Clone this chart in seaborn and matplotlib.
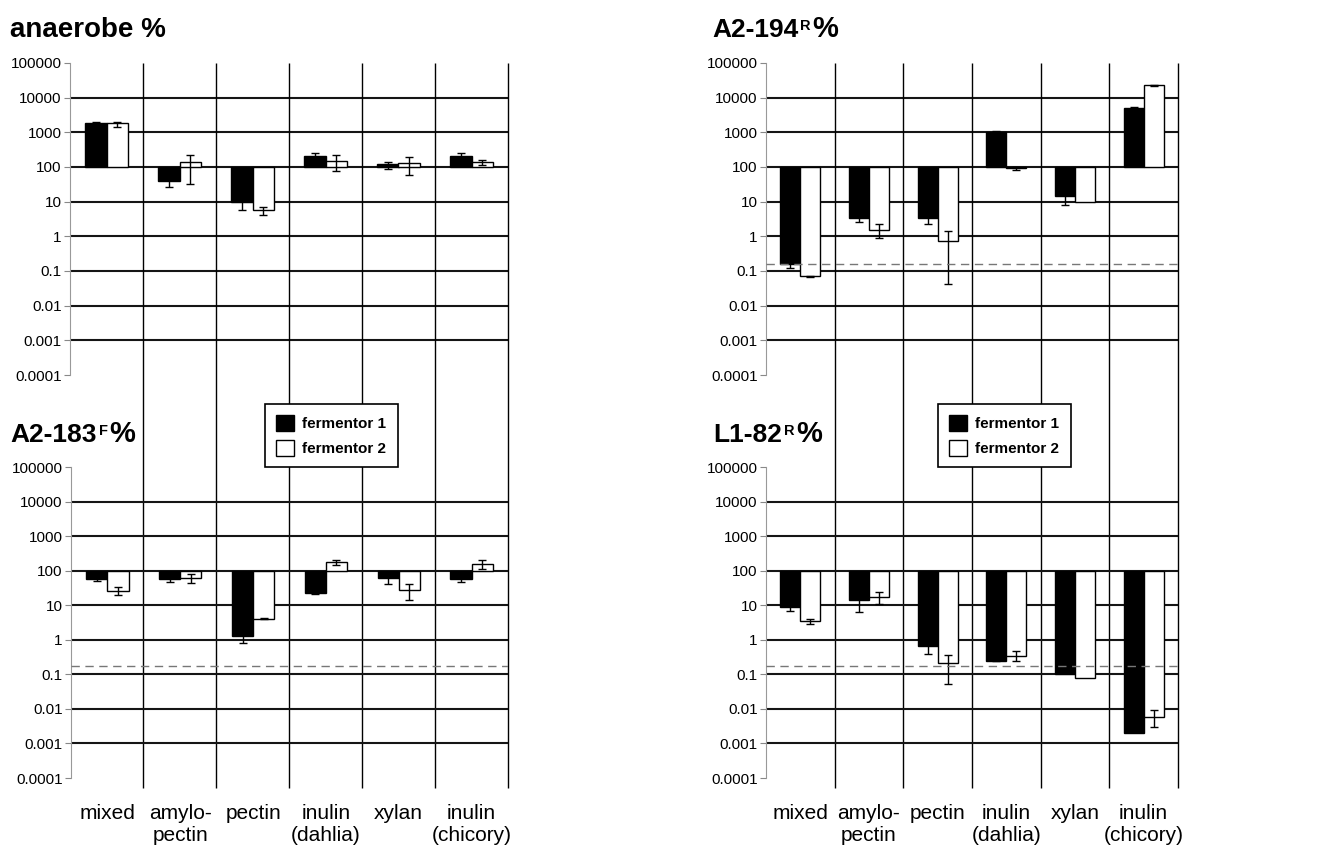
import pandas as pd
import matplotlib
matplotlib.use('Agg')
import matplotlib.pyplot as plt
import seaborn as sns
from matplotlib.patches import Patch
from matplotlib.ticker import NullLocator

# substrates on the x axis
substrates = ['mixed', 'amylo-\npectin', 'pectin', 'inulin\n(dahlia)', 'xylan', 'inulin\n(chicory)']
fermentors = ['fermentor 1', 'fermentor 2']

# y axis decades
y_ticks = [1e-4, 1e-3, 1e-2, 1e-1, 1, 10, 100, 1000, 10000, 100000]
y_labels = ['0.0001', '0.001', '0.01', '0.1', '1', '10', '100', '1000', '10000', '100000']

# anaerobe %
anaerobe_f1 = [1820, 39, 10, 208, 125, 208]
anaerobe_f2 = [1800, 136, 5.9, 149, 128, 139]
anaerobe_f1_err = [(1700, 1950), (26, 58), (5.9, 17), (170, 253), (88, 143), (170, 253)]
anaerobe_f2_err = [(1450, 2000), (32, 227), (4.1, 6.9), (75, 217), (57, 190), (112, 156)]

# A2-194R %
a2194_f1 = [0.156, 3.45, 3.45, 1030, 14.2, 5140]
a2194_f2 = [0.07, 1.56, 0.75, 94, 10, 23300]
a2194_f1_err = [(0.125, 0.19), (2.6, 4.5), (2.2, 5.4), (960, 1100), (8.2, 24), (4800, 5500)]
a2194_f2_err = [(0.067, 0.073), (0.92, 2.2), (0.041, 1.43), (80, 100), None, (22000, 23300)]
a2194_cutoff = 0.155

# A2-183F %
a2183_f1 = [57, 57, 1.3, 22.5, 61, 59]
a2183_f2 = [26, 61, 4.1, 175, 28, 160]
a2183_f1_err = [(49, 66), (46, 70), (0.8, 2.1), (20.5, 24.5), (41, 90), (46, 75)]
a2183_f2_err = [(20, 33), (44, 80), (3.9, 4.3), (149, 209), (14.4, 41), (112, 204)]
a2183_cutoff = 0.18

# L1-82R %
l182_f1 = [8.8, 14.4, 0.64, 0.25, 0.1, 0.00195]
l182_f2 = [3.5, 17.2, 0.21, 0.35, 0.08, 0.0059]
l182_f1_err = [(7.0, 11), (6.2, 33), (0.39, 1.05), (0.24, 0.26), None, None]
l182_f2_err = [(2.8, 3.9), (10.5, 23.4), (0.051, 0.37), (0.25, 0.48), None, (0.003, 0.0093)]
l182_cutoff = 0.18

sns.set_style('white')
plt.rcParams['font.family'] = ['Liberation Sans', 'DejaVu Sans']
plt.rcParams['text.color'] = 'black'
plt.rcParams['xtick.color'] = 'black'
plt.rcParams['ytick.color'] = 'black'
plt.rcParams['axes.labelcolor'] = 'black'

W, H = 1318, 847
fig = plt.figure(figsize=(W / 100, H / 100), dpi=100)


def px_axes(x0, y0, x1, y1):
    # axes from pixel box (top-left origin)
    ax = fig.add_axes([x0 / W, 1 - y1 / H, (x1 - x0) / W, (y1 - y0) / H])
    ax.set_facecolor('none')
    return ax


def draw_panel(ax, f1, f2, f1_err, f2_err, cutoff=None, xlabels=False, vline_bottom=None):
    df = pd.DataFrame({
        'substrate': substrates * 2,
        'fermentor': [fermentors[0]] * 6 + [fermentors[1]] * 6,
        'value': f1 + f2,
    })
    # bars grow up or down from the 100 % baseline
    df['height'] = df['value'] - 100
    sns.barplot(data=df, x='substrate', y='height', hue='fermentor',
                order=substrates, hue_order=fermentors,
                palette={'fermentor 1': 'black', 'fermentor 2': 'white'},
                saturation=1, edgecolor='black', linewidth=1, width=0.58,
                errorbar=None, legend=False, bottom=100, zorder=2, ax=ax)
    ax.set_yscale('log')
    ax.set_ylim(1e-4, 1e5)
    ax.set_xlim(-0.5, 5.5)

    # error bars at the bar tips
    errs = f1_err + f2_err
    vals = f1 + f2
    for p, v, e in zip(ax.patches, vals, errs):
        if e is None:
            continue
        xc = p.get_x() + p.get_width() / 2
        ax.errorbar(xc, v, yerr=[[v - e[0]], [e[1] - v]], fmt='none',
                    ecolor='black', elinewidth=1, capsize=3, capthick=1, zorder=3)

    for d in [1e-3, 1e-2, 1e-1, 1, 10, 100, 1000, 10000]:
        ax.axhline(d, color='#151515', lw=1.5, zorder=1)
    if cutoff is not None:
        ax.axhline(cutoff, color='#777777', lw=1, ls=(0, (6, 4)), zorder=4)
    if vline_bottom is not None:
        ax.vlines([0.5, 1.5, 2.5, 3.5, 4.5, 5.5], vline_bottom, 1,
                  transform=ax.get_xaxis_transform(), colors='black',
                  lw=1, clip_on=False, zorder=1)

    ax.set_yticks(y_ticks)
    ax.set_yticklabels(y_labels)
    ax.yaxis.set_minor_locator(NullLocator())
    ax.tick_params(axis='y', direction='out', length=4, width=0.8, color='#888888',
                   labelcolor='black', labelsize=11, pad=2, left=True)
    for s in ['top', 'right', 'bottom']:
        ax.spines[s].set_visible(False)
    ax.spines['left'].set_color('#999999')
    ax.spines['left'].set_linewidth(0.8)
    ax.set_xlabel('')
    ax.set_ylabel('')
    if xlabels:
        ax.set_xticks(range(6))
        ax.set_xticklabels(substrates)
        ax.tick_params(axis='x', length=0, labelsize=15, pad=19, labelcolor='black')
    else:
        ax.set_xticks([])


def title(ax, x, y, main, sup=None):
    size = 20 if sup is None else 19
    t = ax.annotate(main, xy=(x / W, 1 - y / H), xycoords='figure fraction',
                    fontsize=size, weight='bold', va='baseline', ha='left',
                    annotation_clip=False)
    if sup is None:
        return
    s = ax.annotate(sup, xy=(1, 1 - (y - 7) / H), xycoords=(t, 'figure fraction'),
                    xytext=(1.5, 0), textcoords='offset points',
                    fontsize=10.5, weight='bold', va='baseline', ha='left',
                    annotation_clip=False)
    ax.annotate('%', xy=(1, 1 - y / H), xycoords=(s, 'figure fraction'),
                xytext=(1, 0), textcoords='offset points',
                fontsize=21, weight='bold', va='baseline', ha='left',
                annotation_clip=False)


def legend(ax, x, y):
    handles = [Patch(facecolor='black', edgecolor='black', lw=1),
               Patch(facecolor='white', edgecolor='black', lw=1)]
    leg = ax.legend(handles=handles, labels=fermentors, loc='upper left',
                    bbox_to_anchor=(x / W, 1 - y / H), bbox_transform=fig.transFigure,
                    frameon=True, fancybox=False, edgecolor='black', framealpha=1,
                    prop={'size': 11, 'weight': 'bold'}, handlelength=1.15,
                    handleheight=1.2, borderpad=0.75, labelspacing=0.55,
                    handletextpad=0.55, borderaxespad=0)
    leg.get_frame().set_linewidth(1.2)
    leg.set_zorder(10)


# top panels span 63..375 px, bottom panels 467..778 px
vb = 1 - (788 - 63) / (375 - 63)

ax1 = px_axes(70, 63, 508, 375)
draw_panel(ax1, anaerobe_f1, anaerobe_f2, anaerobe_f1_err, anaerobe_f2_err, vline_bottom=vb)
title(ax1, 10, 37, 'anaerobe %')

ax2 = px_axes(766, 63, 1178, 375)
draw_panel(ax2, a2194_f1, a2194_f2, a2194_f1_err, a2194_f2_err, cutoff=a2194_cutoff, vline_bottom=vb)
title(ax2, 712, 37, 'A2-194', 'R')

ax3 = px_axes(71, 467, 508, 778)
draw_panel(ax3, a2183_f1, a2183_f2, a2183_f1_err, a2183_f2_err, cutoff=a2183_cutoff, xlabels=True)
title(ax3, 10, 442, 'A2-183', 'F')
legend(ax3, 265, 404)

ax4 = px_axes(766, 467, 1178, 778)
draw_panel(ax4, l182_f1, l182_f2, l182_f1_err, l182_f2_err, cutoff=l182_cutoff, xlabels=True)
title(ax4, 713, 442, 'L1-82', 'R')
legend(ax4, 938, 404)

fig.savefig('out.png', dpi=100, facecolor='white')
